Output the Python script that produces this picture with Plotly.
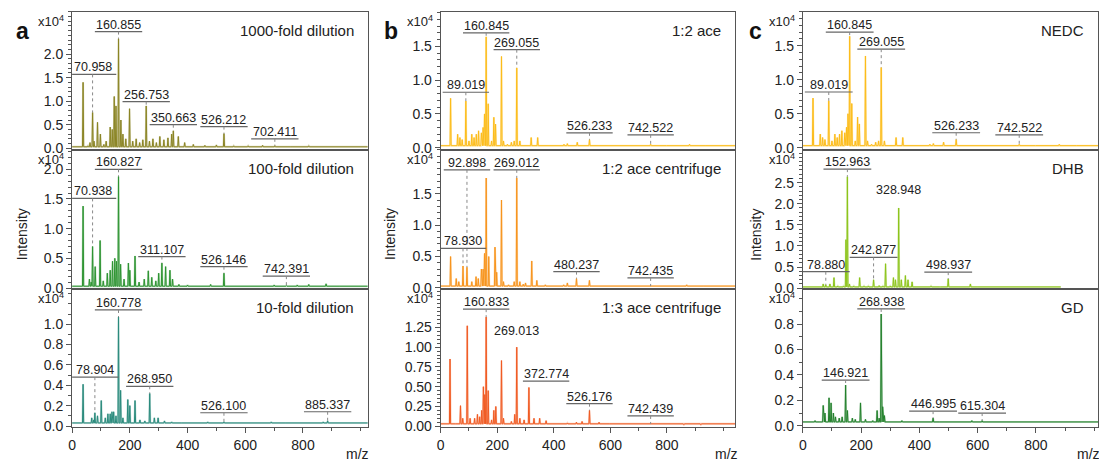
import plotly.graph_objects as go

# ---------------------------------------------------------------------------
# Peak lists (m/z, intensity in units of 1e4 counts)
# ---------------------------------------------------------------------------
# column a: dilution series
A1_MZ = [38, 55, 62, 70.958, 76, 88, 98, 110, 118, 132, 139, 146, 152, 160.855, 169, 176, 186, 199, 210,
         222, 234, 245, 256.753, 268, 280, 292, 304, 318, 332, 345, 350.663, 368, 390, 420, 460, 500,
         526.212, 560, 610, 660, 702.411, 760, 820, 880, 940]
A1_INT = [1.40, 0.05, 0.12, 0.76, 0.15, 0.55, 0.30, 0.08, 0.15, 0.45, 0.40, 1.10, 0.90, 2.33, 0.60, 0.30,
          0.20, 0.84, 0.15, 0.20, 0.12, 0.18, 0.90, 0.15, 0.20, 0.12, 0.25, 0.18, 0.22, 0.30, 0.37, 0.25,
          0.12, 0.08, 0.06, 0.07, 0.31, 0.05, 0.05, 0.06, 0.05, 0.04, 0.05, 0.04, 0.04]

A2_MZ = [38, 60, 66, 70.938, 80, 97, 108, 122, 132, 140, 148, 154, 160.827, 168, 180, 195, 200, 218, 232,
         250, 264, 276, 290, 300, 311.107, 324, 339, 348, 370, 400, 440, 480, 526.146, 580, 640, 700,
         742.391, 780, 820, 880, 930]
A2_INT = [1.38, 0.15, 0.10, 0.70, 0.36, 0.80, 0.12, 0.25, 0.30, 0.45, 0.50, 0.45, 1.88, 0.40, 0.15, 0.42,
          0.30, 0.54, 0.10, 0.15, 0.29, 0.18, 0.12, 0.25, 0.42, 0.36, 0.30, 0.15, 0.06, 0.05, 0.04, 0.06,
          0.25, 0.04, 0.04, 0.05, 0.04, 0.05, 0.06, 0.07, 0.03]

A3_MZ = [38, 68, 75, 78.904, 88, 101, 115, 124, 132, 138, 144, 152, 160.778, 168, 176, 193, 200, 218, 235,
         252, 268.950, 285, 298, 320, 345, 380, 430, 470, 526.100, 580, 640, 690, 740, 800, 850, 870,
         885.337, 910]
A3_INT = [0.41, 0.08, 0.06, 0.13, 0.10, 0.25, 0.08, 0.12, 0.12, 0.14, 0.14, 0.10, 1.07, 0.35, 0.08, 0.26,
          0.20, 0.25, 0.06, 0.05, 0.32, 0.08, 0.08, 0.05, 0.04, 0.03, 0.03, 0.04, 0.04, 0.03, 0.03, 0.04,
          0.03, 0.03, 0.03, 0.04, 0.05, 0.03]

# column b: solvent ratio / centrifugation
B1_MZ = [35, 60, 68, 76, 89.019, 100, 110, 118, 126, 134, 144, 150, 155, 160.845, 168, 180, 188, 194, 215,
         222, 236, 250, 260, 269.055, 280, 320, 343, 380, 436, 448, 483, 526.233, 580, 620, 680, 742.522,
         800, 880, 940]
B1_INT = [0.73, 0.20, 0.15, 0.12, 0.69, 0.10, 0.20, 0.15, 0.20, 0.25, 0.22, 0.30, 0.50, 1.64, 0.65, 0.10,
          0.45, 0.35, 1.35, 0.10, 0.05, 0.08, 0.10, 1.18, 0.10, 0.15, 0.15, 0.04, 0.05, 0.06, 0.08, 0.12,
          0.04, 0.03, 0.03, 0.05, 0.03, 0.05, 0.03]

B2_MZ = [35, 55, 64, 78.930, 92.898, 110, 125, 133, 144, 150, 155, 161, 170, 192, 198, 215, 222, 240, 260,
         269.012, 280, 292, 300, 322, 340, 370, 435, 448, 480.237, 526, 580, 640, 700, 742.435, 800, 870,
         930]
B2_INT = [0.50, 0.15, 0.10, 0.35, 0.33, 0.10, 0.18, 0.15, 0.30, 0.30, 0.55, 1.75, 0.50, 0.65, 0.25, 1.40,
          0.10, 0.05, 0.10, 1.75, 0.10, 0.06, 0.08, 0.43, 0.12, 0.05, 0.05, 0.08, 0.15, 0.12, 0.03, 0.03,
          0.03, 0.03, 0.03, 0.05, 0.03]

B3_MZ = [33, 55, 70, 78, 94, 104, 120, 130, 138, 145, 151, 156, 160.833, 168, 180, 188, 195, 215, 222, 250,
         262, 269.013, 280, 295, 312, 330, 350, 372.774, 420, 448, 480, 500, 526.176, 560, 600, 650, 700,
         742.439, 800, 860, 920]
B3_INT = [0.85, 0.03, 0.26, 0.10, 1.27, 0.10, 0.10, 0.15, 0.12, 0.20, 0.50, 0.40, 1.38, 0.45, 0.08, 0.20,
          0.25, 0.83, 0.10, 0.06, 0.15, 1.00, 0.10, 0.08, 0.49, 0.10, 0.10, 0.07, 0.03, 0.04, 0.05, 0.06,
          0.20, 0.05, 0.03, 0.03, 0.03, 0.03, 0.03, 0.02, 0.02]

# column c: matrix comparison (NEDC spectrum is the 1:2 ace acquisition)
C1_MZ = B1_MZ
C1_INT = B1_INT

C2_MZ = [60, 70, 78.880, 93, 107, 120, 140, 148, 152.963, 160, 175, 195, 210, 225, 242.877, 262, 275, 284,
         300, 311, 318, 328.948, 338, 352, 361, 375, 400, 440, 470, 498.937, 540, 575, 600, 650, 700, 750,
         800, 850]
C2_INT = [0.03, 0.10, 0.08, 0.10, 0.25, 0.05, 0.05, 1.15, 2.64, 0.10, 0.05, 0.25, 0.05, 0.05, 0.20, 0.06,
          0.05, 0.58, 0.05, 0.25, 0.20, 1.90, 0.20, 0.30, 0.20, 0.15, 0.03, 0.05, 0.04, 0.22, 0.04, 0.10,
          0.03, 0.03, 0.03, 0.03, 0.03, 0.03]

C3_MZ = [42, 58, 70, 76, 90, 97, 105, 112, 125, 135, 146.921, 153, 170, 180, 198, 215, 240, 255, 262,
         268.938, 274, 280, 340, 400, 420, 446.995, 470, 500, 560, 580, 615.304, 700, 800, 900, 1000]
C3_INT = [0.04, 0.03, 0.16, 0.10, 0.22, 0.18, 0.10, 0.07, 0.06, 0.07, 0.32, 0.12, 0.06, 0.05, 0.18, 0.05,
          0.04, 0.12, 0.06, 0.88, 0.15, 0.08, 0.04, 0.03, 0.03, 0.06, 0.03, 0.03, 0.03, 0.04, 0.04, 0.03,
          0.03, 0.03, 0.03]

# baseline level and the m/z where the recorded trace ends
BASELINE = [0.03, 0.03, 0.03, 0.03, 0.03, 0.03, 0.03, 0.03, 0.03]
TRACE_END = [1025, 1025, 1025, 1045, 1045, 1045, 1015, 885, 1015]

# annotated peaks: m/z and height of the label bar (1e4 counts)
A1_LAB = [160.855, 70.958, 256.753, 350.663, 526.212, 702.411]
A1_LAB_Y = [2.48, 1.57, 0.99, 0.50, 0.46, 0.20]
A2_LAB = [160.827, 70.938, 311.107, 526.146, 742.391]
A2_LAB_Y = [2.00, 1.51, 0.53, 0.36, 0.20]
A3_LAB = [160.778, 78.904, 268.950, 526.100, 885.337]
A3_LAB_Y = [1.14, 0.48, 0.39, 0.13, 0.14]
B1_LAB = [160.845, 269.055, 89.019, 526.233, 742.522]
B1_LAB_Y = [1.70, 1.45, 0.82, 0.22, 0.19]
B2_LAB = [92.898, 269.012, 78.930, 480.237, 742.435]
B2_LAB_Y = [1.88, 1.88, 0.63, 0.26, 0.16]
B3_LAB = [160.833, 269.013, 372.774, 526.176, 742.439]
B3_LAB_Y = [1.48, 1.11, 0.57, 0.285, 0.13]
C1_LAB = B1_LAB
C1_LAB_Y = B1_LAB_Y
C2_LAB = [152.963, 328.948, 242.877, 78.880, 498.937]
C2_LAB_Y = [2.82, 2.15, 0.73, 0.39, 0.38]
C3_LAB = [268.938, 146.921, 446.995, 615.304]
C3_LAB_Y = [0.92, 0.36, 0.115, 0.10]

# labels printed without a bar, and labels without a dotted stem
PLAIN_LABELS = {269.013, 328.948}
NO_STEM = {372.774}

TITLES = ["1000-fold dilution", "100-fold dilution", "10-fold dilution",
          "1:2 ace", "1:2 ace centrifuge", "1:3 ace centrifuge",
          "NEDC", "DHB", "GD"]

X_TICKS = [0, 200, 400, 600, 800]

# ---------------------------------------------------------------------------
# Styling / layout
# ---------------------------------------------------------------------------
COLORS = ["#8a8424", "#2e9432", "#2a8a7c",
          "#fcbc1a", "#f7941d", "#f05a22",
          "#fcbc1a", "#8cc41a", "#23802c"]

COL_DOMAINS = [(0.0622, 0.3321), (0.3988, 0.6679), (0.7295, 0.9994)]
ROW_DOMAINS = [(0.6745, 0.9743), (0.3726, 0.6745), (0.0717, 0.3726)]

Y_RANGES = [(-0.032, 2.90), (-0.01, 2.33), (-0.01, 1.35),
            (-0.03, 2.01), (-0.01, 2.20), (-0.01, 1.74),
            (-0.03, 2.00), (-0.01, 3.28), (-0.01, 1.08)]
Y_DTICK = [0.5, 0.5, 0.2, 0.5, 0.5, 0.25, 0.5, 0.5, 0.2]
Y_MINOR = [0.1, 0.1, 0.1, 0.1, 0.1, 0.05, 0.1, 0.1, 0.1]
Y_FMT = [".1f", ".1f", ".1f", ".1f", ".1f", ".2f", ".1f", ".1f", ".1f"]
Y_TOPTICK = [2.0, 2.0, 1.0, 1.5, 1.5, 1.25, 1.5, 2.5, 0.8]
X_RANGES = [1024, 1024, 1024, 1042, 1042, 1042, 1014, 1014, 1014]

PANELS = [
    (A1_MZ, A1_INT, A1_LAB, A1_LAB_Y), (A2_MZ, A2_INT, A2_LAB, A2_LAB_Y), (A3_MZ, A3_INT, A3_LAB, A3_LAB_Y),
    (B1_MZ, B1_INT, B1_LAB, B1_LAB_Y), (B2_MZ, B2_INT, B2_LAB, B2_LAB_Y), (B3_MZ, B3_INT, B3_LAB, B3_LAB_Y),
    (C1_MZ, C1_INT, C1_LAB, C1_LAB_Y), (C2_MZ, C2_INT, C2_LAB, C2_LAB_Y), (C3_MZ, C3_INT, C3_LAB, C3_LAB_Y),
]

FONT = "Liberation Sans, Arial, sans-serif"
PEAK_HALF_WIDTH = 2.0
BAR_HALF_WIDTH = 82
TEXT = "#222222"


def profile(mz, inten, base, end):
    """Stick spectrum drawn as narrow peaks on a flat baseline."""
    xs, ys = [0], [base]
    for m, h in sorted(zip(mz, inten)):
        xs += [m - PEAK_HALF_WIDTH, m, m + PEAK_HALF_WIDTH]
        ys += [base, h, base]
    xs.append(end)
    ys.append(base)
    return xs, ys


def lighten(hex_color, amount):
    r, g, b = (int(hex_color[k:k + 2], 16) for k in (1, 3, 5))
    r, g, b = (round(c + (255 - c) * amount) for c in (r, g, b))
    return f"rgb({r},{g},{b})"


fig = go.Figure()
layout = dict(
    width=1099, height=467, margin=dict(l=0, r=0, t=0, b=0),
    paper_bgcolor="white", plot_bgcolor="white", showlegend=False,
    font=dict(family=FONT, size=13, color=TEXT),
)
shapes, annotations = [], []

for i, (mz, inten, lab, lab_y) in enumerate(PANELS):
    col, row = divmod(i, 3)
    n = i + 1
    xa, ya = f"x{n}", f"y{n}"
    xs, ys = profile(mz, inten, BASELINE[i], TRACE_END[i])
    # soft halo under the trace, then the trace itself
    fig.add_trace(go.Scatter(x=xs, y=ys, mode="lines", xaxis=xa, yaxis=ya,
                             line=dict(color=lighten(COLORS[i], 0.7), width=2.0), hoverinfo="skip"))
    fig.add_trace(go.Scatter(x=xs, y=ys, mode="lines", xaxis=xa, yaxis=ya,
                             line=dict(color=COLORS[i], width=1.0), hoverinfo="skip"))

    bottom = row == 2
    layout[f"xaxis{n}"] = dict(
        domain=COL_DOMAINS[col], anchor=ya, range=[0, X_RANGES[i]],
        showline=True, mirror=True, linecolor="#555", linewidth=1,
        showgrid=False, zeroline=False,
        tickvals=X_TICKS, showticklabels=bottom, ticks="outside" if bottom else "",
        ticklen=5, tickcolor="#555", tickfont=dict(size=14, color=TEXT),
        minor=dict(dtick=100, ticks="outside" if bottom else "", ticklen=3, tickcolor="#555"),
    )
    y0, y1 = Y_RANGES[i]
    layout[f"yaxis{n}"] = dict(
        domain=ROW_DOMAINS[row], anchor=xa, range=[y0, y1],
        showline=True, mirror=True, linecolor="#555", linewidth=1,
        showgrid=False, zeroline=False,
        tickformat=Y_FMT[i], tickmode="array",
        tickvals=[round(k * Y_DTICK[i], 3) for k in range(int(Y_TOPTICK[i] / Y_DTICK[i] + 1.5))],
        ticks="outside", ticklen=5, tickcolor="#555",
        tickfont=dict(size=14, color=TEXT),
        minor=dict(tick0=0, dtick=Y_MINOR[i], ticks="outside", ticklen=3, tickcolor="#555"),
    )

    # scale factor marker at top of the y axis
    annotations.append(dict(
        xref="paper", yref="paper", x=COL_DOMAINS[col][0], y=ROW_DOMAINS[row][1],
        xanchor="right", yanchor="middle", xshift=-6, yshift=-9, showarrow=False,
        text="x10<sup>4</sup>", font=dict(size=13, color=TEXT)))

    # panel caption, top right
    annotations.append(dict(
        xref="paper", yref="paper", x=COL_DOMAINS[col][1], y=ROW_DOMAINS[row][1],
        xanchor="right", yanchor="top", xshift=-12, yshift=-8, showarrow=False,
        text=TITLES[i], font=dict(size=15, color=TEXT)))

    # peak labels with bar and dotted stem
    peak_height = dict(zip(mz, inten))
    for m, ly in zip(lab, lab_y):
        annotations.append(dict(
            xref=xa, yref=ya, x=m, y=ly, xanchor="center", yanchor="bottom",
            yshift=-2, showarrow=False, text=f"{m:.3f}",
            font=dict(size=12.5, color=TEXT)))
        if m in PLAIN_LABELS:
            continue
        shapes.append(dict(type="line", xref=xa, yref=ya,
                           x0=m - BAR_HALF_WIDTH, x1=m + BAR_HALF_WIDTH, y0=ly, y1=ly,
                           line=dict(color="#666", width=1.2)))
        h = peak_height.get(m, BASELINE[i])
        if h < ly and m not in NO_STEM:
            shapes.append(dict(type="line", xref=xa, yref=ya, x0=m, x1=m, y0=ly, y1=h,
                               line=dict(color="#888", width=1, dash="dot")))

# column letters, axis titles
for col, letter in enumerate("abc"):
    annotations.append(dict(
        xref="paper", yref="paper", x=[18.5, 388, 754][col] / 1099, y=1 - 31 / 467,
        xanchor="center", yanchor="middle", showarrow=False,
        text=f"<b>{letter}</b>", font=dict(size=23, color="#111")))
    annotations.append(dict(
        xref="paper", yref="paper", x=[18, 388, 755][col] / 1099, y=1 - 238 / 467,
        xanchor="center", yanchor="middle", textangle=-90, showarrow=False,
        text="Intensity", font=dict(size=14, color=TEXT)))
    annotations.append(dict(
        xref="paper", yref="paper", x=[355, 725, 1088][col] / 1099, y=1 - 461 / 467,
        xanchor="center", yanchor="middle", showarrow=False,
        text="m/z", font=dict(size=14, color=TEXT)))

layout["shapes"] = shapes
layout["annotations"] = annotations
fig.update_layout(**layout)
fig.write_html("out.html")
